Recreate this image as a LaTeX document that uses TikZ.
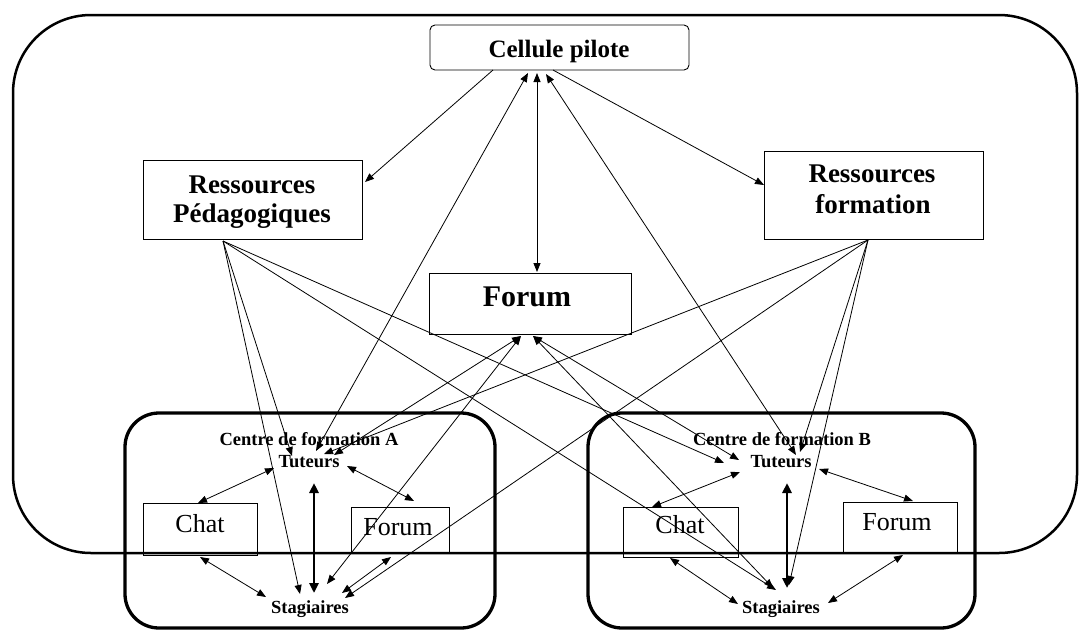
\documentclass[tikz,border=0pt]{standalone}
\usepackage{fontspec}
\setmainfont{Liberation Serif}
\usetikzlibrary{arrows.meta}
\begin{document}
\begin{tikzpicture}[x=1pt,y=-1pt,
  box/.style={draw, line width=0.9pt, inner sep=0pt},
  txt/.style={anchor=base, inner sep=0pt},
  big/.style={font=\fontsize{27}{30}\selectfont\bfseries},
  mid/.style={font=\fontsize{26}{30}\selectfont},
  small/.style={font=\fontsize{18.5}{20}\selectfont\bfseries},
  conn/.style={line width=0.8pt},
  oneway/.style={conn, -{Triangle[length=9pt,width=7pt]}},
  twoway/.style={conn, {Triangle[length=9pt,width=7pt]}-{Triangle[length=9pt,width=7pt]}},
  thick2/.style={line width=2.5pt, {Triangle[length=10pt,width=9pt]}-{Triangle[length=10pt,width=9pt]}},
  centre/.style={line width=3.3pt, rounded corners=34pt}
]
\useasboundingbox (0,0) rectangle (1080,633);
\fill[white] (0,0) rectangle (1080,633);

% outer frame and centres
\draw[line width=2.5pt, rounded corners=78pt] (13,15) rectangle (1077,553);
\draw[centre] (125,413) rectangle (495,628);
\draw[centre] (588,413) rectangle (975,628);

% boxes
\node[box, fill=white, minimum width=259pt, minimum height=45pt, rounded corners=5pt] (cp) at (559.5,47.5) {};
\node[box, fill=white, minimum width=219pt, minimum height=79pt] (rp) at (252.5,199.5) {};
\node[box, fill=white, minimum width=219pt, minimum height=88pt] (rf) at (873.5,195) {};
\node[box, fill=white, minimum width=202pt, minimum height=61pt] (fo) at (530,303.5) {};
\node[box, minimum width=114pt, minimum height=52pt] (chA) at (200,529) {};
\node[box, minimum width=98pt, minimum height=46pt] (foA) at (400,530) {};
\node[box, minimum width=115pt, minimum height=50pt] (chB) at (680.5,532) {};
\node[box, minimum width=114pt, minimum height=51pt] (foB) at (900,527.5) {};

% texts
\node[txt, font=\fontsize{25}{30}\selectfont\bfseries] (cpt) at (559,57) {Cellule pilote};
\node[txt, big] (rpt1) at (252,193) {Ressources};
\node[txt, big] (rpt2) at (252,222) {Pédagogiques};
\node[txt, big] (rft1) at (872,182) {Ressources};
\node[txt, big] (rft2) at (873,213) {formation};
\node[txt, font=\fontsize{30}{32}\selectfont\bfseries] (fot) at (527,306) {Forum};
\node[txt, mid] (chAt) at (200,532) {Chat};
\node[txt, mid] (foAt) at (398,535) {Forum};
\node[txt, mid] (chBt) at (680,533) {Chat};
\node[txt, mid] (foBt) at (897,530) {Forum};
\node[txt, small] (cA) at (309,445) {Centre de formation A};
\node[txt, small] (tA) at (309,467) {Tuteurs};
\node[txt, small] (sA) at (310,613) {Stagiaires};
\node[txt, small] (cB) at (782,445) {Centre de formation B};
\node[txt, small] (tB) at (781,467) {Tuteurs};
\node[txt, small] (sB) at (781,613) {Stagiaires};

% anchor points
\coordinate (cp1) at (493,70);
\coordinate (cp2) at (528,73);
\coordinate (cp3) at (537,73);
\coordinate (cp4) at (546,74);
\coordinate (cp6) at (553,70);
\coordinate (rpR) at (365,182);
\coordinate (rfL) at (764,185);
\coordinate (foT) at (537,272);
\coordinate (rpB) at (223,241);
\coordinate (rfB) at (868,240);
\coordinate (foB1) at (521,336);
\coordinate (foB2) at (533,336);

\coordinate (tA1) at (316,451);
\coordinate (tA2) at (292,456);
\coordinate (tA3) at (324,454);
\coordinate (tA4) at (334,455);
\coordinate (sA1) at (300,594);
\coordinate (sA2) at (345,598);
\coordinate (sA3) at (327,584);
\coordinate (tB1) at (796,455);
\coordinate (tB2) at (724,463);
\coordinate (tB3) at (800,452);
\coordinate (tB4) at (739,460);
\coordinate (sB1) at (776,590);
\coordinate (sB2) at (789,585);
\coordinate (sB3) at (773,588);

% inner A
\coordinate (a1) at (274,468); \coordinate (a2) at (198,503);
\coordinate (a3) at (347,466); \coordinate (a4) at (414,501);
\coordinate (a5) at (314,483); \coordinate (a6) at (314,593);
\coordinate (a7) at (200,557); \coordinate (a8) at (266,597);
\coordinate (a9) at (391,557); \coordinate (a10) at (342,593);
% inner B
\coordinate (b1) at (740,472); \coordinate (b2) at (652,507);
\coordinate (b3) at (819,469); \coordinate (b4) at (913,501);
\coordinate (b5) at (787,483); \coordinate (b6) at (787,588);
\coordinate (b7) at (670,558); \coordinate (b8) at (738,604);
\coordinate (b9) at (903,555); \coordinate (b10) at (828,603);

% connectors from Cellule pilote
\draw[oneway] (cp1) -- (rpR);
\draw[oneway] (cp6) -- (rfL);
\draw[twoway] (cp3) -- (foT);
\draw[twoway] (cp2) -- (tA1);
\draw[twoway] (cp4) -- (tB1);

% from Ressources Pedagogiques
\draw[oneway] (rpB) -- (sA1);
\draw[oneway] (rpB) -- (tA2);
\draw[oneway] (rpB) -- (tB2);
\draw[oneway] (rpB) -- (sB1);

% from Ressources formation
\draw[oneway] (rfB) -- (tA3);
\draw[oneway] (rfB) -- (sA2);
\draw[oneway] (rfB) -- (tB3);
\draw[oneway] (rfB) -- (sB2);

% from Forum
\draw[twoway] (foB1) -- (tA4);
\draw[twoway] (foB1) -- (sA3);
\draw[twoway] (foB2) -- (tB4);
\draw[twoway] (foB2) -- (sB3);

% inside A
\draw[twoway] (a1) -- (a2);
\draw[twoway] (a3) -- (a4);
\draw[thick2] (a5) -- (a6);
\draw[twoway] (a7) -- (a8);
\draw[twoway] (a9) -- (a10);
% inside B
\draw[twoway] (b1) -- (b2);
\draw[twoway] (b3) -- (b4);
\draw[thick2] (b5) -- (b6);
\draw[twoway] (b7) -- (b8);
\draw[twoway] (b9) -- (b10);
\end{tikzpicture}
\end{document}
